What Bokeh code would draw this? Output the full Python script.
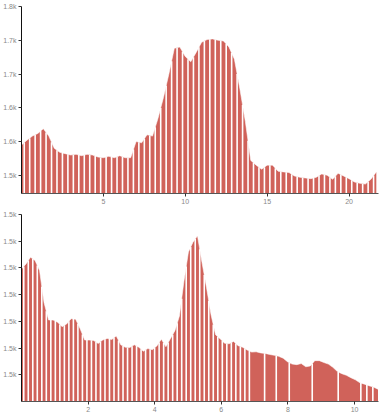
import numpy as np
from bokeh.plotting import figure
from bokeh.layouts import column
from bokeh.models import FixedTicker, Range1d
from bokeh.embed import file_html
from bokeh.resources import INLINE

# ---- data: top panel ----
top_step = 1 / 3
top_values = [1545, 1552, 1558, 1562, 1569, 1558, 1540, 1534, 1532, 1530,
              1531, 1529, 1531, 1530, 1527, 1526, 1528, 1526, 1529, 1526,
              1526, 1550, 1548, 1560, 1558, 1584, 1615, 1650, 1688, 1690,
              1676, 1668, 1682, 1697, 1701, 1702, 1700, 1699, 1690, 1672,
              1628, 1580, 1522, 1515, 1509, 1515, 1515, 1506, 1505, 1504,
              1499, 1497, 1496, 1495, 1497, 1502, 1500, 1494, 1503, 1499,
              1495, 1490, 1488, 1487, 1494, 1505]
top_y_domain = [1473, 1750]
top_x_domain = [0, 21.8]
top_xticks = [5, 10, 15, 20]
top_yticks = [1500, 1550, 1600, 1650, 1700, 1750]
top_ylabels = ["1.5k", "1.6k", "1.6k", "1.7k", "1.7k", "1.8k"]

# ---- data: bottom panel ----
bot_step = 0.1355
bot_values = [1509.6, 1511.5, 1514.0, 1512.8, 1509.0, 1497.0, 1490.5, 1490.5, 1489.7, 1488.0,
              1489.0, 1491.0, 1490.8, 1487.2, 1483.0, 1483.0, 1482.8, 1481.7, 1483.0, 1483.6,
              1483.2, 1484.5, 1481.2, 1480.3, 1480.2, 1481.2, 1480.3, 1478.8, 1479.8, 1479.4,
              1480.8, 1483.3, 1480.5, 1483.5, 1486.5, 1492.0, 1505.0, 1516.0, 1519.6, 1522.0,
              1512.0, 1502.7, 1492.5, 1485.0, 1483.5, 1481.8, 1481.6, 1482.5, 1480.9, 1480.3,
              1479.3, 1478.5, 1478.6, 1478.2, 1478.0, 1477.6, 1477.3, 1476.9, 1476.2, 1474.8,
              1474.0, 1473.8, 1474.2, 1473.0, 1473.3, 1475.3, 1475.3, 1474.6, 1474.0, 1472.8,
              1471.2, 1470.4, 1469.8, 1468.9, 1468.1, 1467.0, 1466.5, 1465.9, 1465.4, 1464.6]
bot_dense_count = 51          # bars separated by gaps in the left part
bot_sparse_gaps = [7.30, 7.65, 8.04, 8.73, 9.51, 10.19, 10.37, 10.55]
bot_y_domain = [1460, 1530]
bot_x_domain = [0, 10.72]
bot_xticks = [2, 4, 6, 8, 10]
bot_yticks = [1470, 1480, 1490, 1500, 1510, 1520, 1530]
bot_ylabels = ["1.5k"] * 7

FILL = "#d0625a"
FONT = "Liberation Sans"


def make_panel(xs, ys, gaps, xdom, ydom, xticks, yticks, ylabels, height, top_border):
    p = figure(width=389, height=height, output_backend="svg", toolbar_location=None,
               x_range=Range1d(*xdom), y_range=Range1d(*ydom),
               min_border_left=0, min_border_right=11, min_border_top=top_border,
               min_border_bottom=0)
    p.xgrid.visible = False
    p.ygrid.visible = False
    p.outline_line_color = None
    p.background_fill_color = "white"

    xs = np.asarray(xs, dtype=float)
    ys = np.asarray(ys, dtype=float)
    p.varea(x=xs, y1=ydom[0], y2=ys, fill_color=FILL)
    gx = np.asarray(gaps, dtype=float)
    gy = np.interp(gx, xs, ys)
    p.segment(x0=gx, y0=ydom[0], x1=gx, y1=gy, line_color="white", line_width=1.6)
    p.line(xs, ys, line_color="white", line_alpha=0.55, line_width=1)

    p.xaxis.ticker = FixedTicker(ticks=xticks)
    p.yaxis.ticker = FixedTicker(ticks=yticks)
    p.yaxis.major_label_overrides = {t: l for t, l in zip(yticks, ylabels)}
    for ax in (p.xaxis[0], p.yaxis[0]):
        ax.major_tick_out = 3
        ax.major_tick_in = 0
        ax.minor_tick_line_color = None
        ax.major_label_text_font_size = "7px"
        ax.major_label_text_font = FONT
        ax.major_label_text_color = "#888888"
        ax.major_label_standoff = 2
        ax.axis_label_standoff = 0
        ax.major_tick_line_color = "#333333"
    p.yaxis.axis_line_color = "#111111"
    p.xaxis.axis_line_color = "#555555"
    return p


top_x = [i * top_step for i in range(len(top_values))]
top_gaps = [(a + b) / 2 for a, b in zip(top_x[:-1], top_x[1:])]

bot_x = [i * bot_step for i in range(len(bot_values))]
bot_gaps = [(a + b) / 2 for a, b in zip(bot_x[:bot_dense_count], bot_x[1:bot_dense_count + 1])]
bot_gaps += bot_sparse_gaps

p1 = make_panel(top_x, top_values, top_gaps, top_x_domain, top_y_domain,
                top_xticks, top_yticks, top_ylabels, 206, 6)
p2 = make_panel(bot_x, bot_values, bot_gaps, bot_x_domain, bot_y_domain,
                bot_xticks, bot_yticks, bot_ylabels, 208, 8)

layout = column(p1, p2, spacing=0)
open("out.html", "w").write(file_html(layout, INLINE))
